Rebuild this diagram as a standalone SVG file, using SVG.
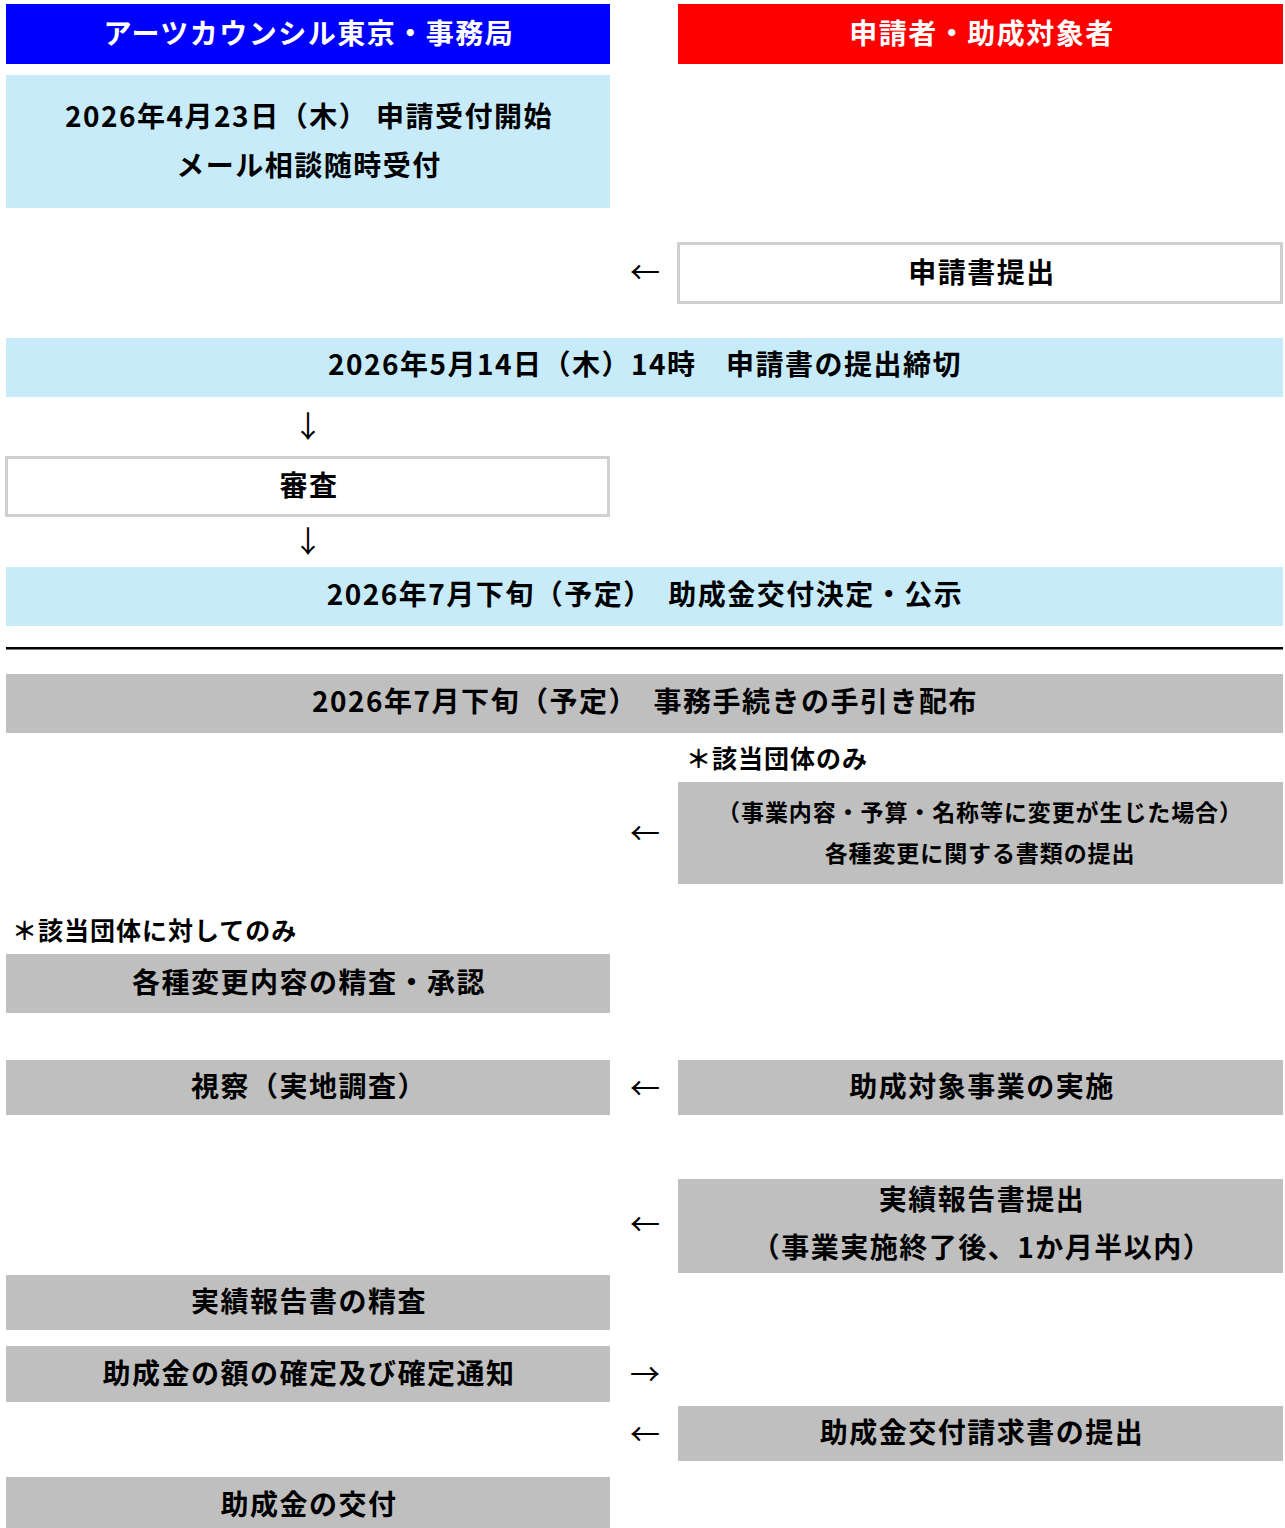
<svg xmlns="http://www.w3.org/2000/svg" width="1285" height="1528" viewBox="0 0 1285 1528">
<style>
.t{font-family:"Noto Sans CJK JP","Noto Sans CJK SC",sans-serif;font-weight:700;fill:#000;text-anchor:middle;dominant-baseline:central}
.w{fill:#fff}
.s23{font-size:23px;letter-spacing:0.9px}
.s25{font-size:25px;letter-spacing:1px}
.s28{font-size:28px;letter-spacing:1.5px}
.lb{fill:#c8ebfa}
.gr{fill:#bfbfbf}
.ob{fill:#fff;stroke:#d0d0d0;stroke-width:3}
.ar{font-family:"Noto Sans CJK JP",sans-serif;font-size:30px;fill:#000;text-anchor:middle;dominant-baseline:central;font-weight:400}
.l{text-anchor:start}
</style>
<rect width="1285" height="1528" fill="#fff"/>
<g id="hdr-left"><rect x="6" y="4" width="604" height="60" fill="#0000ff"/><text class="t w s28" x="309" y="32">アーツカウンシル東京・事務局</text></g>
<g id="hdr-right"><rect x="678" y="4" width="605" height="60" fill="#ff0000"/><text class="t w s28" x="982" y="32">申請者・助成対象者</text></g>
<g id="n1"><rect class="lb" x="6" y="75" width="604" height="133"/><text class="t s28" x="309" y="115">2026年4月23日（木） 申請受付開始</text><text class="t s28" x="309" y="164">メール相談随時受付</text></g>
<g id="n2"><rect class="ob" x="678.5" y="243.5" width="603" height="59"/><text class="t s28" x="982" y="271">申請書提出</text></g>
<g id="n3"><rect class="lb" x="6" y="338" width="1277" height="59"/><text class="t s28" x="645" y="363">2026年5月14日（木）14時　申請書の提出締切</text></g>
<g id="n4"><rect class="ob" x="6.5" y="457.5" width="602" height="58"/><text class="t s28" x="309" y="484">審査</text></g>
<g id="n5"><rect class="lb" x="6" y="567" width="1277" height="59"/><text class="t s28" x="645" y="593">2026年7月下旬（予定）　助成金交付決定・公示</text></g>
<g id="divider"><rect x="6" y="647" width="1277" height="2.5" fill="#000"/></g>
<g id="n6"><rect class="gr" x="6" y="674" width="1277" height="59"/><text class="t s28" x="645" y="700">2026年7月下旬（予定）　事務手続きの手引き配布</text></g>
<g id="note1"><text class="t s25 l" x="686" y="757">＊該当団体のみ</text></g>
<g id="n7"><rect class="gr" x="678" y="782" width="605" height="102"/><text class="t s23" x="980" y="811">（事業内容・予算・名称等に変更が生じた場合）</text><text class="t s23" x="980" y="852">各種変更に関する書類の提出</text></g>
<g id="note2"><text class="t s25 l" x="12" y="929">＊該当団体に対してのみ</text></g>
<g id="n8"><rect class="gr" x="6" y="954" width="604" height="59"/><text class="t s28" x="309" y="981">各種変更内容の精査・承認</text></g>
<g id="n9"><rect class="gr" x="6" y="1060" width="604" height="55"/><text class="t s28" x="309" y="1085">視察（実地調査）</text></g>
<g id="n10"><rect class="gr" x="678" y="1060" width="605" height="55"/><text class="t s28" x="982" y="1085">助成対象事業の実施</text></g>
<g id="n11"><rect class="gr" x="678" y="1179" width="605" height="94"/><text class="t s28" x="982" y="1198">実績報告書提出</text><text class="t s28" x="982" y="1246">（事業実施終了後、1か月半以内）</text></g>
<g id="n12"><rect class="gr" x="6" y="1275" width="604" height="55"/><text class="t s28" x="309" y="1300">実績報告書の精査</text></g>
<g id="n13"><rect class="gr" x="6" y="1346" width="604" height="56"/><text class="t s28" x="309" y="1372">助成金の額の確定及び確定通知</text></g>
<g id="n14"><rect class="gr" x="678" y="1406" width="605" height="55"/><text class="t s28" x="982" y="1431">助成金交付請求書の提出</text></g>
<g id="n15"><rect class="gr" x="6" y="1477" width="604" height="51"/><text class="t s28" x="309" y="1503">助成金の交付</text></g>
<g id="connectors">
<text class="ar" x="645" y="270">←</text>
<text class="ar" x="308" y="424">↓</text>
<text class="ar" x="308" y="539">↓</text>
<text class="ar" x="645" y="831">←</text>
<text class="ar" x="645" y="1086">←</text>
<text class="ar" x="645" y="1222">←</text>
<text class="ar" x="645" y="1372">→</text>
<text class="ar" x="645" y="1432">←</text>
</g>
</svg>
